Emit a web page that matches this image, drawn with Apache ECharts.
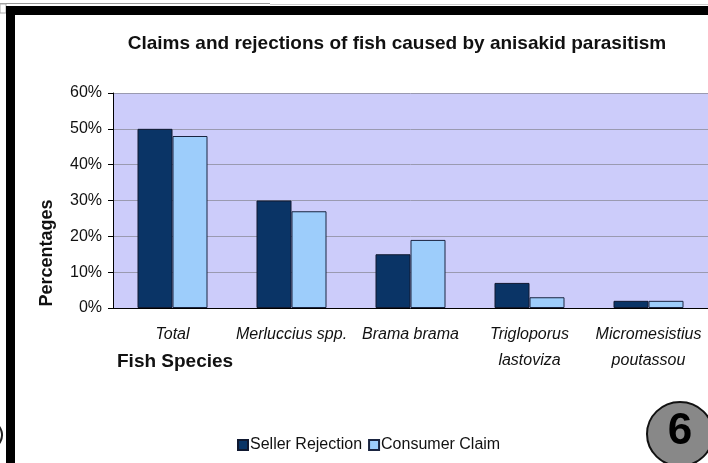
<!DOCTYPE html>
<html>
<head>
<meta charset="utf-8">
<script src="https://cdn.jsdelivr.net/npm/echarts@6/dist/echarts.min.js"></script>
<style>
  html, body { margin: 0; padding: 0; background: #fff; }
  #chart { width: 708px; height: 463px; }
</style>
</head>
<body>
<div id="chart"></div>
<script>
const categories = ['Total', 'Merluccius spp.', 'Brama brama', 'Trigloporus\nlastoviza', 'Micromesistius\npoutassou'];
const sellerRejection = [50, 30, 15, 7, 2];
const consumerClaim = [48, 27, 19, 3, 2];
const yTicks = [0, 10, 20, 30, 40, 50, 60];

const FONT = '"Liberation Sans Narrow", "Arial Narrow", "Liberation Sans", sans-serif';

const chart = echarts.init(document.getElementById('chart'));

chart.setOption({
  animation: false,
  title: {
    text: 'Claims and rejections of fish caused by anisakid parasitism',
    left: 392,
    textAlign: 'center',
    top: 29,
    textStyle: { fontFamily: FONT, fontSize: 19, fontWeight: 'bold', color: '#111' }
  },
  grid: {
    left: 113, top: 93, width: 598, height: 215,
    show: true, backgroundColor: '#CCCCFA', borderWidth: 0
  },
  legend: {
    left: 232, top: 432,
    itemWidth: 10, itemHeight: 10, itemGap: 6,
    icon: 'rect',
    textStyle: { fontFamily: FONT, fontSize: 16, color: '#111', padding: [0, 0, 0, -3] },
    data: ['Seller Rejection', 'Consumer Claim']
  },
  xAxis: {
    type: 'category',
    data: categories,
    axisLine: { lineStyle: { color: '#000', width: 1 } },
    axisTick: { length: 6, lineStyle: { color: '#000' } },
    axisLabel: {
      fontFamily: FONT, fontSize: 16, fontStyle: 'italic', color: '#111',
      margin: 14, lineHeight: 26, interval: 0
    }
  },
  yAxis: {
    type: 'value',
    min: yTicks[0], max: yTicks[yTicks.length - 1], interval: 10,
    axisLine: { show: true, lineStyle: { color: '#000', width: 1 } },
    axisTick: { show: true, length: 5, lineStyle: { color: '#000' } },
    axisLabel: {
      fontFamily: FONT, fontSize: 16, color: '#111', margin: 11,
      formatter: v => v + '%'
    },
    splitLine: { lineStyle: { color: '#9A9AB0', width: 1 } }
  },
  series: [
    {
      name: 'Seller Rejection', type: 'bar', data: sellerRejection,
      barWidth: 35, barGap: '0%',
      itemStyle: { color: '#0A3466', borderColor: '#101830', borderWidth: 1 }
    },
    {
      name: 'Consumer Claim', type: 'bar', data: consumerClaim,
      barWidth: 35,
      itemStyle: { color: '#9DCDFB', borderColor: '#1A2440', borderWidth: 1 }
    }
  ],
  graphic: [
    // frame
    { type: 'rect', shape: { x: 0, y: 3, width: 270, height: 1 }, style: { fill: '#999' } },
    { type: 'rect', shape: { x: 270, y: 4, width: 438, height: 1 }, style: { fill: '#ccc' } },
    { type: 'rect', shape: { x: 0, y: 4, width: 6, height: 9 }, style: { fill: '#fff', stroke: '#aaa', lineWidth: 1 } },
    { type: 'rect', shape: { x: 6, y: 6, width: 702, height: 9 }, style: { fill: '#000' } },
    { type: 'rect', shape: { x: 6, y: 6, width: 9, height: 457 }, style: { fill: '#000' } },
    { type: 'arc', shape: { cx: -12, cy: 435, r: 14, startAngle: -Math.PI / 3, endAngle: Math.PI / 3 }, style: { stroke: '#222', lineWidth: 2, fill: null } },
    // y axis name
    {
      type: 'text', x: 47, y: 253, rotation: Math.PI / 2,
      style: { text: 'Percentages', fontFamily: FONT, fontSize: 18, fontWeight: 'bold', fill: '#111', align: 'center', verticalAlign: 'middle' }
    },
    // x axis name
    {
      type: 'text', x: 117, y: 362,
      style: { text: 'Fish Species', fontFamily: FONT, fontSize: 19, fontWeight: 'bold', fill: '#111', align: 'left', verticalAlign: 'middle' }
    },
    // page number badge
    { type: 'ellipse', shape: { cx: 680, cy: 434, rx: 33, ry: 32 }, style: { fill: '#888', stroke: '#111', lineWidth: 2 } },
    {
      type: 'text', x: 680, y: 432,
      style: { text: '6', fontFamily: FONT, fontSize: 44, fontWeight: 'bold', fill: '#000', align: 'center', verticalAlign: 'middle' }
    }
  ]
});
</script>
</body>
</html>
